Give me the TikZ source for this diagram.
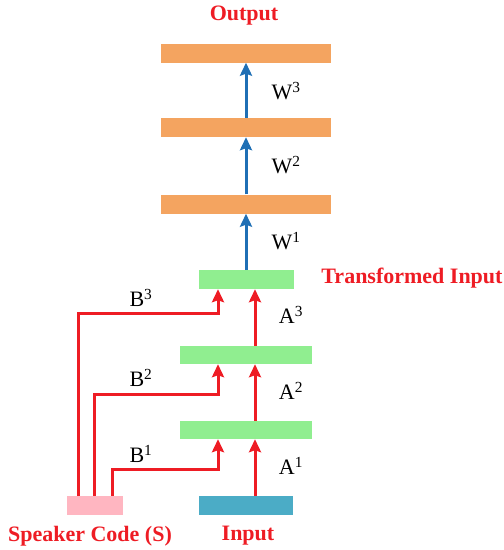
\documentclass[tikz,border=0pt]{standalone}
\usepackage{fontspec}
\setmainfont{Liberation Serif}
\usetikzlibrary{arrows.meta}
\definecolor{barorange}{HTML}{F4A460}
\definecolor{bargreen}{HTML}{90EE90}
\definecolor{barteal}{HTML}{4BACC6}
\definecolor{barpink}{HTML}{FFB6C1}
\definecolor{ared}{HTML}{EE1C24}
\definecolor{ablue}{HTML}{1F6FB5}
\tikzset{
  bar/.style={draw=none, inner sep=0pt, minimum height=19pt},
  redarrow/.style={draw=ared, line width=3pt, -{Stealth[width=12pt,length=13pt,inset=2pt]}},
  bluearrow/.style={draw=ablue, line width=3pt, -{Stealth[width=12pt,length=13pt,inset=2pt]}},
  title/.style={text=ared, font=\bfseries\fontsize{22}{24}\selectfont},
  wlabel/.style={font=\fontsize{22}{24}\selectfont}
}
\begin{document}
\begin{tikzpicture}[x=1pt,y=-1pt]
\useasboundingbox (0,0) rectangle (504,550);
% bars
\node[bar, fill=barorange, minimum width=170pt] (o3) at (246,53) {};
\node[bar, fill=barorange, minimum width=170pt] (o2) at (246,127.5) {};
\node[bar, fill=barorange, minimum width=170pt] (o1) at (246,204) {};
\node[bar, fill=bargreen, minimum width=95pt] (g3) at (246,279.5) {};
\node[bar, fill=bargreen, minimum width=132pt, minimum height=18pt] (g2) at (246,355) {};
\node[bar, fill=bargreen, minimum width=132pt, minimum height=18pt] (g1) at (246,430) {};
\node[bar, fill=barteal, minimum width=94pt] (in) at (246,505.5) {};
\node[bar, fill=barpink, minimum width=56pt] (spk) at (95,505.5) {};
% titles
\node[title] (tout) at (244,16) {Output};
\node[title] (ttrans) at (412,278) {Transformed Input};
\node[title] (tspk) at (90,536) {Speaker Code (S)};
\node[title] (tin) at (248,536) {Input};
% blue arrows
\draw[bluearrow] (g3.north) -- (o1.south);
\draw[bluearrow] (o1.north) -- (o2.south);
\draw[bluearrow] (o2.north) -- (o3.south);
% red arrows A
\draw[redarrow] ([xshift=9pt]in.north) -- ([xshift=9pt]g1.south);
\draw[redarrow] ([xshift=9pt]g1.north) -- ([xshift=9pt]g2.south);
\draw[redarrow] ([xshift=9pt]g2.north) -- ([xshift=9pt]g3.south);
% red arrows B
\draw[redarrow] ([xshift=17pt]spk.north) -- ++(0,-26) -| ([xshift=-28pt]g1.south);
\draw[redarrow] ([xshift=-1pt]spk.north) -- ++(0,-101) -| ([xshift=-28pt]g2.south);
\draw[redarrow] ([xshift=-17pt]spk.north) -- ++(0,-182) -| ([xshift=-28pt]g3.south);
% weight labels
\node[wlabel] (w3) at (286,91) {W\textsuperscript{3}};
\node[wlabel] (w2) at (286,165) {W\textsuperscript{2}};
\node[wlabel] (w1) at (286,241) {W\textsuperscript{1}};
\node[wlabel] (a3) at (291,315) {A\textsuperscript{3}};
\node[wlabel] (a2) at (291,391) {A\textsuperscript{2}};
\node[wlabel] (a1) at (291,466) {A\textsuperscript{1}};
\node[wlabel] (b3) at (141,298) {B\textsuperscript{3}};
\node[wlabel] (b2) at (141,378) {B\textsuperscript{2}};
\node[wlabel] (b1) at (141,454) {B\textsuperscript{1}};
\end{tikzpicture}
\end{document}
